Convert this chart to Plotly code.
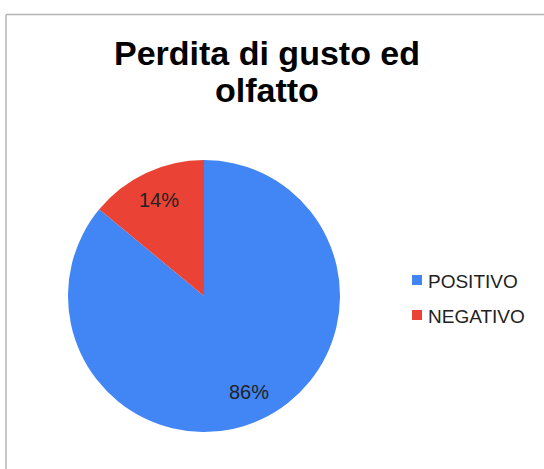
import math
import plotly.graph_objects as go

labels = ["POSITIVO", "NEGATIVO"]
values = [86, 14]
colors = ["#4285F4", "#EA4335"]
title_lines = ["Perdita di gusto ed", "olfatto"]

W, H = 544, 469
FONT = "Liberation Sans, Arial, Helvetica, sans-serif"

# pie placement (pixels)
cx, cy, R = 204, 296, 136

def px(x):
    return x / W

def py(y):
    return 1 - y / H

fig = go.Figure(go.Pie(
    labels=labels, values=values, sort=False, direction="clockwise", rotation=0,
    marker=dict(colors=colors, line=dict(width=0)),
    textinfo="none", showlegend=False,
    domain=dict(x=[px(cx - R), px(cx + R)], y=[py(cy + R), py(cy - R)]),
    hoverinfo="label+percent",
))

annotations = []
shapes = [
    dict(type="line", xref="paper", yref="paper", x0=px(6), x1=px(6), y0=0, y1=py(14.5),
         line=dict(color="#B4B4B4", width=1.5)),
    dict(type="line", xref="paper", yref="paper", x0=px(6), x1=1.0, y0=py(14.5), y1=py(14.5),
         line=dict(color="#B4B4B4", width=1.5)),
]

# title lines
for i, line in enumerate(title_lines):
    annotations.append(dict(text=f"<b>{line}</b>", xref="paper", yref="paper",
                            x=px(267), y=py(53 + 37 * i), xanchor="center", yanchor="middle",
                            showarrow=False, font=dict(family=FONT, size=34, color="black")))

# percentage labels at slice mid-angles
total = sum(values)
cum = 0
for lab, v in zip(labels, values):
    mid = (cum + v / 2) / total * 2 * math.pi
    cum += v
    r = 0.78 * R
    x = cx + r * math.sin(mid)
    y = cy - r * math.cos(mid)
    annotations.append(dict(text=f"{round(100 * v / total)}%", xref="paper", yref="paper",
                            x=px(x), y=py(y), xanchor="center", yanchor="middle",
                            showarrow=False, font=dict(family=FONT, size=20, color="#222222")))

# legend
for i, (lab, col) in enumerate(zip(labels, colors)):
    yc = 280 + 35 * i
    shapes.append(dict(type="rect", xref="paper", yref="paper",
                       x0=px(412), x1=px(422), y0=py(yc + 5), y1=py(yc - 5),
                       fillcolor=col, line=dict(width=0)))
    annotations.append(dict(text=lab, xref="paper", yref="paper", x=px(426), y=py(yc + 1),
                            xanchor="left", yanchor="middle", showarrow=False,
                            font=dict(family=FONT, size=19, color="#222222")))

fig.update_layout(
    width=W, height=H,
    margin=dict(l=0, r=0, t=0, b=0),
    paper_bgcolor="white", plot_bgcolor="white",
    annotations=annotations, shapes=shapes,
)

fig.write_html("out.html")
